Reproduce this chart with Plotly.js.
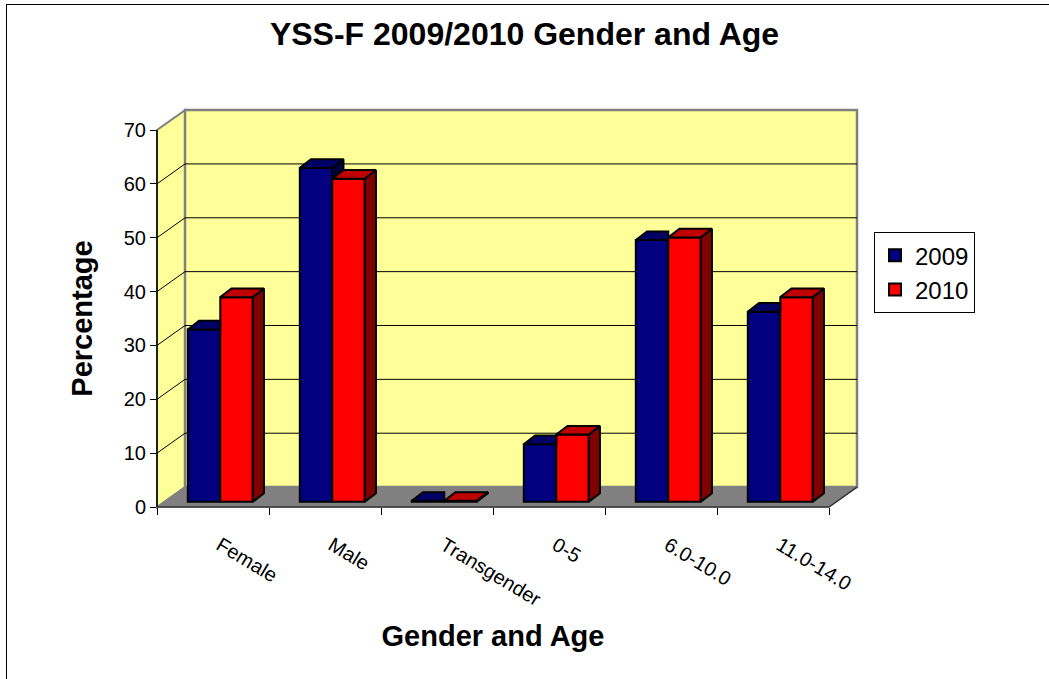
<!DOCTYPE html>
<html>
<head>
<meta charset="utf-8">
<script src="https://cdn.plot.ly/plotly-3.0.1.min.js"></script>
<style>
  html, body { margin: 0; padding: 0; overflow: hidden; background: #ffffff; }
  #frame { position: absolute; left: 6px; top: 4px; width: 1100px; height: 800px; border: 1px solid #000; z-index: 0; }
  #chart { position: absolute; left: 0; top: 0; width: 1049px; height: 679px; z-index: 1; }
</style>
</head>
<body>
<div id="frame"></div>
<div id="chart"></div>
<script>
// ---- data ----
const categories = ['Female', 'Male', 'Transgender', '0-5', '6.0-10.0', '11.0-14.0'];
const values2009 = [32, 62, 0.2, 10.7, 48.6, 35.3];
const values2010 = [38, 60, 0.2, 12.5, 49.1, 38.0];
const yTicks = [0, 10, 20, 30, 40, 50, 60, 70];
const seriesNames = ['2009', '2010'];

// ---- 3D geometry (styling constants, in axis units) ----
const yMax = 70;
const DX = 0.25;          // depth offset along x (category units)
const DY = 3.7;           // depth offset along y (value units)
const FRONT = 0.26;       // bar front face position within depth
const DEPTH = 0.4;        // bar depth as fraction of total depth
const BW = 0.29;          // width of one bar
const fx = FRONT * DX, fy = FRONT * DY;
const ddx = DEPTH * DX, ddy = DEPTH * DY * 1.08;

const idx = categories.map((c, i) => i);
const xMin = -0.5, xFront = categories.length - 0.5;
// convert axis units to paper units (walls extend beyond the front plot area)
const X = (x) => (x - xMin) / (xFront - xMin);
const Y = (v) => v / yMax;

const colors = {
  wall: '#FFFF99', floor: '#808080', edge: '#808080',
  navy: '#000080', navyTop: '#000066', navySide: '#000040',
  red: '#FF0000', redTop: '#C00000', redSide: '#800000'
};

// ---- walls, floor, grid, front axis lines (shapes below traces) ----
const shapes = [];
const P = (pts) => 'M' + pts.map(p => X(p[0]) + ',' + Y(p[1])).join(' L') + ' Z';
const L = (pts) => 'M' + pts.map(p => X(p[0]) + ',' + Y(p[1])).join(' L');
const S = (path, line, fill) => {
  const s = {type: 'path', xref: 'paper', yref: 'paper', layer: 'below', path: path, line: line};
  if (fill) s.fillcolor = fill;
  shapes.push(s);
};
S(P([[xMin, 0], [xMin, yMax], [xMin + DX, yMax + DY], [xMin + DX, DY]]), {color: colors.edge, width: 2}, colors.wall);
S(P([[xMin + DX, DY], [xMin + DX, yMax + DY], [xFront + DX, yMax + DY], [xFront + DX, DY]]), {color: colors.edge, width: 2.5}, colors.wall);
S(P([[xMin, 0], [xFront, 0], [xFront + DX, DY], [xMin + DX, DY]]), {color: colors.edge, width: 1}, colors.floor);
yTicks.filter(v => v > 0 && v < yMax).forEach(v => {
  S(L([[xMin + DX, v + DY], [xFront + DX, v + DY]]), {color: '#000', width: 1});
  S(L([[xMin, v], [xMin + DX, v + DY]]), {color: '#000', width: 1});
});
S(L([[xMin, 0], [xMin, yMax]]), {color: '#000', width: 1.5});
S(L([[xMin, 0], [xFront, 0], [xFront + DX, DY]]), {color: '#333', width: 1.5});

// ---- bars: front faces as real bar traces ----
const b = fy;
const xc = idx.map(i => i + fx);
const traces = [];
traces.push({type: 'bar', name: seriesNames[0], x: xc, y: values2009, base: b,
  width: BW, offset: -BW, marker: {color: colors.navy, line: {color: '#000', width: 2}},
  legendgroup: 'a'});
traces.push({type: 'bar', name: seriesNames[1], x: xc, y: values2010, base: b,
  width: BW, offset: 0, marker: {color: colors.red, line: {color: '#000', width: 2}},
  legendgroup: 'b'});

// ---- top and side faces (computed from the same values) ----
function polyTrace(polys, fill) {
  const x = [], y = [];
  polys.forEach(p => { p.forEach(q => { x.push(q[0]); y.push(q[1]); }); x.push(p[0][0]); y.push(p[0][1]); x.push(null); y.push(null); });
  return {type: 'scatter', mode: 'lines', x: x, y: y, fill: 'toself', fillcolor: fill,
    line: {color: '#000', width: 2}, showlegend: false, hoverinfo: 'skip', cliponaxis: false};
}
const side09 = [], top09 = [], side10 = [], top10 = [];
idx.forEach(i => {
  const v1 = values2009[i], v2 = values2010[i];
  const xl = xc[i] - BW, xm = xc[i], xr = xc[i] + BW;
  if (v1 > v2) {
    side09.push([[xm, b + v2], [xm, b + v1], [xm + ddx, b + v1 + ddy], [xm + ddx, b + v2 + ddy]]);
    top09.push([[xl, b + v1], [xm, b + v1], [xm + ddx, b + v1 + ddy], [xl + ddx, b + v1 + ddy]]);
  } else {
    top09.push([[xl, b + v1], [xm, b + v1], [xm, b + v1 + ddy], [xl + ddx, b + v1 + ddy]]);
  }
  side10.push([[xr, b], [xr, b + v2], [xr + ddx, b + v2 + ddy], [xr + ddx, b + ddy]]);
  top10.push([[xm, b + v2], [xr, b + v2], [xr + ddx, b + v2 + ddy], [xm + ddx, b + v2 + ddy]]);
});
traces.push(polyTrace(side09, colors.navySide));
traces.push(polyTrace(top09, colors.navyTop));
traces.push(polyTrace(side10, colors.redSide));
traces.push(polyTrace(top10, colors.redTop));

const FONT = 'Liberation Sans, Arial, sans-serif';
const layout = {
  width: 1049, height: 679,
  margin: {l: 157, r: 220, t: 130, b: 172},
  paper_bgcolor: 'rgba(0,0,0,0)', plot_bgcolor: 'rgba(0,0,0,0)',
  font: {family: FONT, color: '#000'},
  title: {text: 'YSS-F 2009/2010 Gender and Age', font: {family: FONT, size: 32, weight: 'bold', color: '#000'},
    x: 0.5, xref: 'container', y: 0.95, yref: 'container', yanchor: 'middle'},
  barmode: 'overlay',
  hovermode: false,
  showlegend: true,
  legend: {x: 1.067, y: 0.729, xanchor: 'left', yanchor: 'top', bgcolor: '#fff',
    bordercolor: '#000', borderwidth: 1, font: {family: FONT, size: 24, color: '#000'},
    tracegroupgap: 6, traceorder: 'normal'},
  xaxis: {range: [xMin, xFront], showgrid: false, zeroline: false, showline: false,
    tickmode: 'array', tickvals: idx, ticktext: categories, ticks: '', tickangle: 31,
    tickfont: {family: FONT, size: 20, color: '#000'}, ticklabelstandoff: 22, ticklabelshift: 7,
    minor: {tickmode: 'array', tickvals: idx.map(i => i - 0.5).concat([xFront]), ticks: 'outside', ticklen: 7, tickcolor: '#000', tickwidth: 1},
    title: {text: 'Gender and Age', font: {family: FONT, size: 29, weight: 'bold', color: '#000'}, standoff: 16},
    fixedrange: true},
  yaxis: {range: [0, yMax], showgrid: false, zeroline: false, showline: false,
    tickmode: 'array', tickvals: yTicks, ticks: 'outside', ticklen: 6, tickcolor: '#000',
    tickfont: {family: FONT, size: 20, color: '#000'},
    title: {text: 'Percentage', font: {family: FONT, size: 29, weight: 'bold', color: '#000'}, standoff: 22},
    fixedrange: true},
  shapes: shapes
};
Plotly.newPlot('chart', traces, layout, {displayModeBar: false, staticPlot: true});
</script>
</body>
</html>
